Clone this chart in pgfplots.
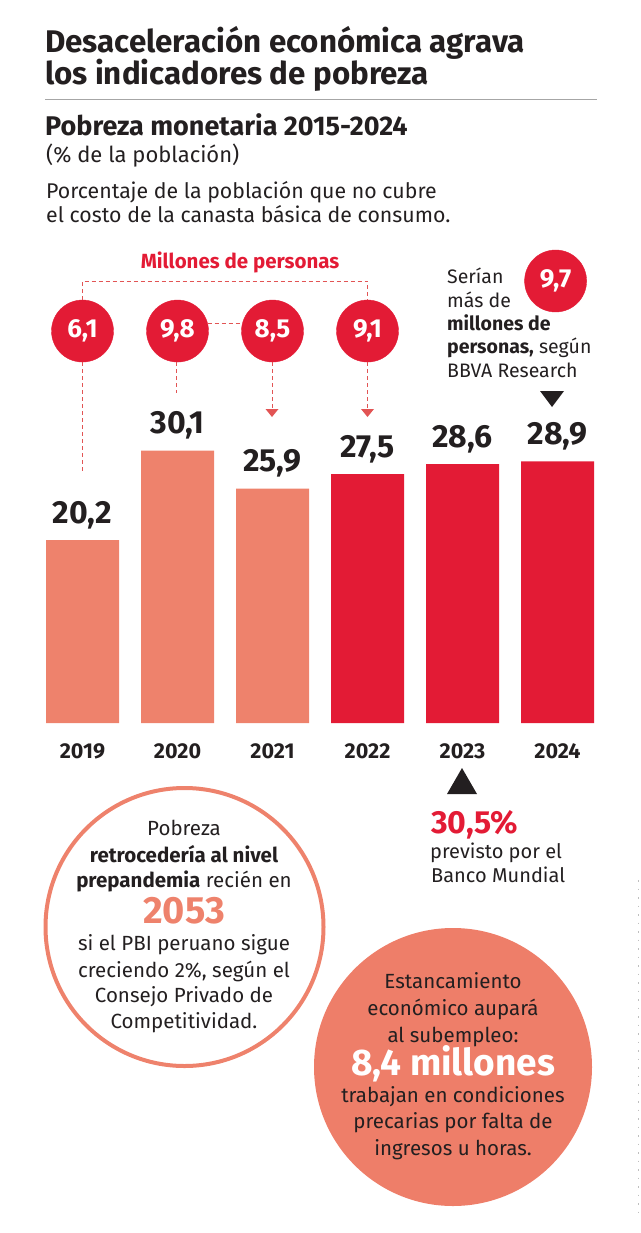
\documentclass[border=0pt]{standalone}
\usepackage{fontspec}
\setmainfont{Fira Sans}
\usepackage{pgfplots}
\pgfplotsset{compat=1.18}
\definecolor{salmon}{RGB}{238,130,108}
\definecolor{pred}{RGB}{227,27,53}
\definecolor{ink}{RGB}{35,31,32}
\definecolor{dashc}{RGB}{226,84,84}
\newcommand{\fs}[1]{\fontsize{#1}{#1}\selectfont}
\begin{document}
\begin{tikzpicture}[x=1pt,y=-1pt]
\useasboundingbox (0,0) rectangle (640,1233);
% titles
\node[anchor=base west, inner sep=0, font=\fs{31.3}\bfseries, text=ink] at (45,53) {Desaceleración económica agrava};
\node[anchor=base west, inner sep=0, font=\fs{31.3}\bfseries, text=ink] at (45,85) {los indicadores de pobreza};
\draw[gray!70, line width=1pt] (45,100) -- (597,100);
\node[anchor=base west, inner sep=0, font=\fs{27}\bfseries, text=ink] at (45,136) {Pobreza monetaria 2015-2024};
\node[anchor=base west, inner sep=0, font=\fs{22}, text=ink] at (46,163) {(\% de la población)};
\node[anchor=base west, inner sep=0, font=\fs{21.3}, text=ink] at (46,199) {Porcentaje de la población que no cubre};
\node[anchor=base west, inner sep=0, font=\fs{21.3}, text=ink] at (46,223) {el costo de la canasta básica de consumo.};
% chart
\begin{axis}[
  at={(35pt,-723pt)}, anchor=south west,
  scale only axis, width=570pt, height=362pt,
  xmin=-0.5, xmax=5.5, ymin=0, ymax=40, clip=false,
  axis line style={draw=none}, tick style={draw=none},
  ytick=\empty, xtick={0,...,5},
  xticklabels={2019,2020,2021,2022,2023,2024},
  xticklabel style={anchor=base, yshift=-35pt, font=\fs{21.5}\bfseries, text=ink},
  /pgf/number format/use comma, /pgf/number format/fixed,
  /pgf/number format/fixed zerofill, /pgf/number format/precision=1,
  /pgf/number format/assume math mode=true,
]
\addplot[ybar, bar width=73pt, bar shift=0pt, fill=salmon, draw=none,
  nodes near coords,
  every node near coord/.style={anchor=base, yshift=17pt, font=\fs{32}\bfseries, text=ink}]
  coordinates {(0,20.2) (1,30.1) (2,25.9)};
\addplot[ybar, bar width=73pt, bar shift=0pt, fill=pred, draw=none,
  nodes near coords,
  every node near coord/.style={anchor=base, yshift=17pt, font=\fs{32}\bfseries, text=ink}]
  coordinates {(3,27.5) (4,28.6) (5,28.9)};
% millions of people (circles)
\addplot[only marks, mark=*, mark size=31pt, color=pred, point meta=explicit,
  nodes near coords,
  every node near coord/.style={anchor=center, font=\fs{26}\bfseries, text=white}]
  coordinates {(0,43.31) [6.1] (1,43.31) [9.8] (2,43.31) [8.5] (3,43.31) [9.1] (4.98,48.84) [9.7]};
\end{axis}
% dashed connectors
\begin{scope}[dashc, line width=1pt, dash pattern=on 4pt off 3pt]
\draw (82.5,300) -- (82.5,281) -- (367.5,281) -- (367.5,300);
\draw (82.5,362) -- (82.5,473);
\draw (176.5,362) -- (176.5,393);
\draw (207.5,323) -- (241,323);
\draw (272,362) -- (272,410);
\draw (367.5,362) -- (367.5,410);
\end{scope}
\fill[dashc] (265.5,409) -- (278.5,409) -- (272,417) -- cycle;
\fill[dashc] (361,409) -- (374,409) -- (367.5,417) -- cycle;
\node[anchor=base, inner sep=0, font=\fs{20.5}\bfseries, text=pred] at (240,268) {Millones de personas};
% BBVA note
\node[anchor=base west, inner sep=0, font=\fs{19.5}, text=ink] at (447,283) {Serían};
\node[anchor=base west, inner sep=0, font=\fs{19.5}, text=ink] at (447,307) {más de};
\node[anchor=base west, inner sep=0, font=\fs{19.5}\bfseries, text=ink] at (447,330) {millones de};
\node[anchor=base west, inner sep=0, font=\fs{19.5}, text=ink] at (447,353) {\textbf{personas,} según};
\node[anchor=base west, inner sep=0, font=\fs{19.5}, text=ink] at (447,377) {BBVA Research};
\fill[ink] (540,391) -- (564,391) -- (552,407) -- cycle;
% World Bank note
\fill[ink] (447,794) -- (477,794) -- (462,768) -- cycle;
\node[anchor=base west, inner sep=0, font=\fs{32}\bfseries, text=pred] at (431,833) {30,5\%};
\node[anchor=base west, inner sep=0, font=\fs{20}, text=ink] at (430,858) {previsto por el};
\node[anchor=base west, inner sep=0, font=\fs{20}, text=ink] at (431,882) {Banco Mundial};
% left circle
\draw[salmon, line width=4pt] (184.5,927) circle[radius=139pt];
\begin{scope}[every node/.style={anchor=base, inner sep=0, font=\fs{20.5}, text=ink}]
\node at (184,835) {Pobreza};
\node at (184,862) {\textbf{retrocedería al nivel}};
\node at (184,887) {\textbf{prepandemia} recién en};
\node[font=\fs{38}\bfseries, text=salmon] at (184,923) {2053};
\node at (184,950) {si el PBI peruano sigue};
\node at (184,977) {creciendo 2\%, según el};
\node at (184,1002) {Consejo Privado de};
\node at (184,1028) {Competitividad.};
\end{scope}
% right circle
\fill[salmon!97!red] (453,1067) circle[radius=139pt];
\begin{scope}[every node/.style={anchor=base, inner sep=0, font=\fs{20.5}, text=ink}]
\node at (453,988) {Estancamiento};
\node at (453,1015) {económico aupará};
\node at (453,1042) {al subempleo:};
\node[font=\fs{37}\bfseries, text=white] at (453,1075) {8,4 millones};
\node at (453,1102) {trabajan en condiciones};
\node at (453,1128) {precarias por falta de};
\node at (453,1155) {ingresos u horas.};
\end{scope}
\draw[gray!50, line width=0.8pt, dash pattern=on 1.5pt off 7pt] (638,880) -- (638,1215);
\end{tikzpicture}
\end{document}
